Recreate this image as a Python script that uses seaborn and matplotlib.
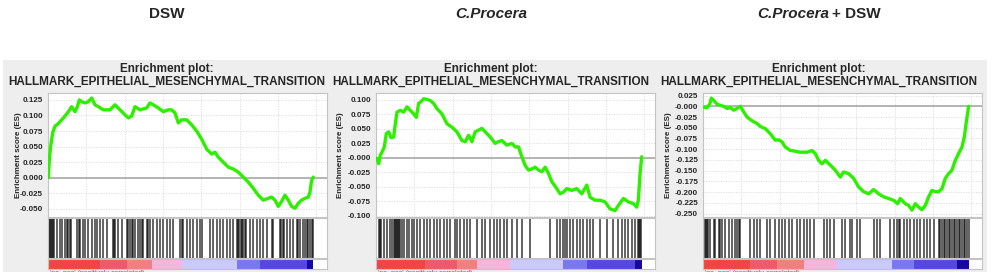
import numpy as np
import matplotlib
matplotlib.use("Agg")
import matplotlib.pyplot as plt
import seaborn as sns

# ranked list size and x-range of the GSEA plots
n_genes = 17300
x_max = 18200

panel_titles = ["DSW", "C.Procera", "C.Procera + DSW"]
plot_title = "Enrichment plot:\nHALLMARK_EPITHELIAL_MESENCHYMAL_TRANSITION"

# running enrichment score (rank, ES)
dsw_rank = [22, 87, 174, 304, 457, 674, 891, 1109, 1326, 1544, 1761, 1913, 2044, 2196, 2413, 2631,
            2848, 3065, 3283, 3609, 4044, 4370, 4696, 5022, 5239, 5457, 5674, 6000, 6435, 6652,
            6870, 7196, 7522, 7848, 8066, 8283, 8500, 8718, 9044, 9370, 9696, 10022, 10348, 10674,
            10891, 11109, 11435, 11761, 12087, 12413, 12740, 13066, 13392, 13718, 14044, 14370,
            14587, 14805, 15022, 15240, 15457, 15675, 15892, 16109, 16327, 16544, 16761, 16979,
            17088, 17196, 17305]
dsw_es = [0.0, 0.030, 0.051, 0.072, 0.083, 0.087, 0.093, 0.099, 0.106, 0.114, 0.106, 0.114, 0.125,
          0.122, 0.120, 0.122, 0.128, 0.117, 0.114, 0.109, 0.109, 0.117, 0.109, 0.101, 0.096, 0.099,
          0.114, 0.109, 0.112, 0.120, 0.117, 0.112, 0.106, 0.109, 0.109, 0.104, 0.088, 0.093, 0.093,
          0.085, 0.075, 0.062, 0.046, 0.038, 0.041, 0.033, 0.025, 0.017, 0.014, 0.009, 0.001, -0.007,
          -0.017, -0.028, -0.036, -0.033, -0.031, -0.036, -0.046, -0.038, -0.028, -0.036, -0.046,
          -0.049, -0.041, -0.036, -0.033, -0.031, -0.023, -0.004, 0.001]

cp_rank = [65, 174, 282, 391, 543, 673, 825, 977, 1151, 1260, 1368, 1586, 1803, 2020, 2237, 2454,
           2628, 2780, 2932, 3106, 3323, 3540, 3758, 3975, 4301, 4626, 4952, 5278, 5604, 5821, 6038,
           6255, 6473, 6690, 6907, 7124, 7450, 7776, 7993, 8210, 8536, 8862, 9079, 9296, 9513, 9731,
           9948, 10165, 10382, 10599, 10817, 11034, 11251, 11468, 11794, 12011, 12228, 12446, 12771,
           13097, 13423, 13749, 13966, 14292, 14618, 14943, 15269, 15595, 15812, 16138, 16464, 16790,
           17007, 17115, 17224, 17332]
cp_es = [-0.001, -0.010, 0.005, 0.010, 0.019, 0.042, 0.045, 0.035, 0.036, 0.059, 0.079, 0.082, 0.079,
         0.088, 0.082, 0.076, 0.070, 0.094, 0.097, 0.102, 0.101, 0.099, 0.094, 0.085, 0.076, 0.059,
         0.053, 0.045, 0.030, 0.028, 0.039, 0.028, 0.045, 0.048, 0.051, 0.045, 0.036, 0.025, 0.028,
         0.030, 0.022, 0.025, 0.019, 0.019, 0.002, -0.013, -0.021, -0.019, -0.016, -0.021, -0.024,
         -0.016, -0.027, -0.041, -0.053, -0.062, -0.059, -0.053, -0.056, -0.053, -0.062, -0.047,
         -0.068, -0.073, -0.073, -0.076, -0.088, -0.091, -0.082, -0.070, -0.076, -0.079, -0.085,
         -0.073, -0.027, 0.002]

cpd_rank = [43, 261, 435, 544, 696, 913, 1130, 1348, 1565, 1783, 2000, 2217, 2435, 2652, 2870, 3087,
            3304, 3522, 3739, 4065, 4391, 4717, 4935, 5152, 5370, 5696, 5913, 6348, 6783, 7109, 7326,
            7544, 7761, 7979, 8305, 8631, 8957, 9174, 9500, 9826, 10152, 10479, 10805, 11131, 11457,
            11783, 12109, 12435, 12696, 12870, 13196, 13413, 13631, 13848, 14066, 14283, 14500, 14718,
            14935, 15153, 15370, 15587, 15805, 16022, 16240, 16457, 16674, 16892, 17044, 17174, 17326]
cpd_es = [-0.002, -0.003, 0.005, 0.019, 0.014, 0.005, 0.002, 0.000, -0.005, -0.003, -0.009, -0.005,
          0.000, -0.013, -0.025, -0.031, -0.036, -0.040, -0.047, -0.052, -0.064, -0.079, -0.078,
          -0.083, -0.095, -0.103, -0.104, -0.107, -0.107, -0.103, -0.110, -0.126, -0.134, -0.126,
          -0.137, -0.149, -0.165, -0.153, -0.157, -0.168, -0.188, -0.199, -0.204, -0.194, -0.204,
          -0.211, -0.215, -0.219, -0.227, -0.215, -0.227, -0.231, -0.242, -0.227, -0.235, -0.241,
          -0.231, -0.211, -0.196, -0.199, -0.199, -0.192, -0.168, -0.157, -0.149, -0.126, -0.110,
          -0.095, -0.072, -0.037, 0.000]

# gene set hits in the ranked list
dsw_hits = [22, 87, 152, 217, 283, 348, 413, 565, 783, 891, 1109, 1217, 1326, 1435, 1500, 1913, 2000,
            2087, 2304, 2413, 2630, 2848, 3065, 3174, 3391, 3609, 3826, 4261, 4326, 4391, 4587, 4804,
            5131, 5239, 5348, 5457, 5565, 5674, 5891, 6000, 6109, 6217, 6435, 6544, 6652, 6870, 7087,
            7304, 7522, 7739, 7957, 8174, 8609, 8718, 8826, 9044, 9261, 9479, 9696, 9913, 10022,
            10565, 10783, 11000, 11218, 11435, 11653, 11870, 12087, 12305, 12392, 12479, 12566, 12653,
            12740, 12827, 12914, 13175, 13392, 13609, 13827, 14044, 14261, 14587, 14696, 15131, 15218,
            15305, 15392, 15566, 15783, 16000, 16218, 16327, 16435, 16653, 16761, 16870, 16979, 17087,
            17196, 17305]
cp_hits = [174, 239, 326, 500, 717, 934, 1043, 1151, 1216, 1281, 1347, 1412, 1477, 1586, 1694, 1803,
           2020, 2129, 2346, 2454, 2672, 2889, 3106, 3323, 3540, 3758, 3975, 4192, 4410, 4626, 4844,
           5170, 5278, 5495, 5713, 5930, 6147, 6581, 6907, 7124, 7450, 7667, 7885, 8102, 8319, 8536,
           8862, 9188, 9513, 10056, 11360, 11794, 12011, 12228, 12337, 12446, 12663, 12880, 13097,
           13314, 13532, 13749, 13966, 14183, 14618, 15052, 15487, 15812, 16030, 16247, 16464, 16681,
           16898, 17115, 17180, 17246, 17311]
cpd_hits = [152, 217, 283, 348, 478, 696, 804, 1022, 1130, 1239, 1457, 1674, 1891, 2109, 2217, 2326,
            2435, 3087, 3304, 3522, 3739, 4174, 4391, 4717, 4935, 5152, 5370, 5587, 5804, 6131, 6348,
            6565, 6783, 7000, 7218, 7870, 8087, 8305, 8522, 9066, 9283, 9609, 9718, 10044, 10261,
            11131, 11348, 11566, 12218, 12435, 12653, 12761, 12870, 13087, 13305, 13522, 13740, 13957,
            14174, 14392, 14609, 14827, 15044, 15370, 15479, 15588, 15697, 15805, 15914, 16023, 16131,
            16240, 16349, 16457, 16566, 16675, 16783, 16892, 17001, 17110, 17218, 17327]

# ranked-metric colour bar: segment edges (rank) and colours
dsw_bar_edges = [0, 3391, 5131, 6761, 8718, 12305, 13827, 16870, 17305]
cp_bar_edges = [0, 3215, 5300, 6581, 8753, 12228, 13749, 16898, 17332]
cpd_bar_edges = [0, 3087, 4826, 6565, 8740, 12326, 13740, 16566, 17327]
bar_colors = ["#f24448", "#ef5a6a", "#f08080", "#f6b6dc", "#cacaf8", "#7a78f0", "#5646e4", "#1408a0"]

panels = [
    dict(rank=dsw_rank, es=dsw_es, hits=dsw_hits, edges=dsw_bar_edges,
         yticks=np.arange(-0.050, 0.126, 0.025), ylim=(-0.063, 0.136), left=48, center=167, ylab=18),
    dict(rank=cp_rank, es=cp_es, hits=cp_hits, edges=cp_bar_edges,
         yticks=np.arange(-0.100, 0.101, 0.025), ylim=(-0.102, 0.112), left=376, center=491, ylab=341),
    dict(rank=cpd_rank, es=cpd_es, hits=cpd_hits, edges=cpd_bar_edges,
         yticks=np.arange(-0.250, 0.026, 0.025), ylim=(-0.258, 0.031), left=703, center=819, ylab=668),
]

sns.set_style("white")
plt.rcParams["font.family"] = ["Liberation Sans", "DejaVu Sans"]

W, H = 997, 278
fig = plt.figure(figsize=(W / 100, H / 100), dpi=100)


def px_axes(x0, y0, x1, y1):
    return fig.add_axes([x0 / W, 1 - y1 / H, (x1 - x0) / W, (y1 - y0) / H])


# gray GSEA background
bg = fig.add_axes([3 / W, 1 - 272 / H, 984 / W, 212 / H])
bg.set_facecolor("#eeeeee")
bg.set_xticks([])
bg.set_yticks([])
for s in bg.spines.values():
    s.set_visible(False)

grid_col = "#dcdcdc"
frame_col = "#c4c4c4"

for i, p in enumerate(panels):
    x0 = p["left"]
    x1 = x0 + 279

    # group heading
    if i < 2:
        fig.text(p["center"] / W, 1 - 14 / H, panel_titles[i], ha="center", va="center",
                 fontsize=11, fontweight="bold", style="italic" if i == 1 else "normal")
    else:
        fig.text(829 / W, 1 - 14 / H, "C.Procera", ha="right", va="center",
                 fontsize=11, fontweight="bold", style="italic")
        fig.text(832 / W, 1 - 14 / H, "+ DSW", ha="left", va="center",
                 fontsize=11, fontweight="bold")

    fig.text(p["center"] / W, 1 - 75.5 / H, plot_title, ha="center", va="center",
             fontsize=8.5, fontweight="bold", linespacing=1.05)
    fig.text(p["ylab"] / W, 1 - 155 / H, "Enrichment score (ES)", rotation=90,
             ha="center", va="center", fontsize=5.8, fontweight="bold")

    # running ES
    ax = px_axes(x0, 93, x1, 217)
    ax.set_facecolor("white")
    ax.set_xlim(0, x_max)
    ax.set_ylim(*p["ylim"])
    for gx in np.arange(2500, x_max, 2500):
        ax.axvline(gx, color=grid_col, lw=0.6, ls=(0, (1.5, 1.5)), zorder=0)
    for gy in p["yticks"]:
        ax.axhline(gy, color=grid_col, lw=0.6, ls=(0, (1.5, 1.5)), zorder=0)
    ax.axhline(0, color="#a8a8a8", lw=1.2, zorder=1)
    sns.lineplot(x=p["rank"], y=p["es"], ax=ax, color="#2cf000", linewidth=2.4, zorder=3)
    ax.set_yticks(p["yticks"])
    ax.set_yticklabels(["%.3f" % v for v in p["yticks"]], fontsize=5.8, fontweight="bold")
    ax.set_xticks([])
    ax.tick_params(axis="y", length=2, width=0.5, pad=1.5, color="#888888")
    for s in ax.spines.values():
        s.set_color(frame_col)
        s.set_linewidth(0.8)

    # hits
    hx = px_axes(x0, 218, x1, 258)
    hx.set_facecolor("white")
    hx.set_xlim(0, x_max)
    hx.set_ylim(0, 1)
    hx.vlines(p["hits"], 0, 1, color="black", linewidth=1.1, alpha=0.78)
    hx.set_xticks([])
    hx.set_yticks([])
    for s in hx.spines.values():
        s.set_color(frame_col)
        s.set_linewidth(0.8)

    # ranked list metric colour bar
    cx = px_axes(x0, 259, x1, 269)
    cx.set_facecolor("white")
    cx.set_xlim(0, x_max)
    cx.set_ylim(0, 1)
    edges = p["edges"]
    cx.bar(edges[:-1], 1, width=np.diff(edges), align="edge", color=bar_colors, linewidth=0)
    cx.set_xticks([])
    cx.set_yticks([])
    for s in cx.spines.values():
        s.set_color(frame_col)
        s.set_linewidth(0.8)

    fig.text((x0 + 2) / W, 1 - 270 / H, "'na_pos' (positively correlated)", ha="left", va="top",
             fontsize=5, color="#ee3333")

# crop the tiny footer text like the original
cover = fig.add_axes([0, 0, 1, 6 / H])
cover.set_facecolor("white")
cover.set_xticks([])
cover.set_yticks([])
for s in cover.spines.values():
    s.set_visible(False)
cover.set_zorder(10)

fig.savefig("out.png", dpi=100)
